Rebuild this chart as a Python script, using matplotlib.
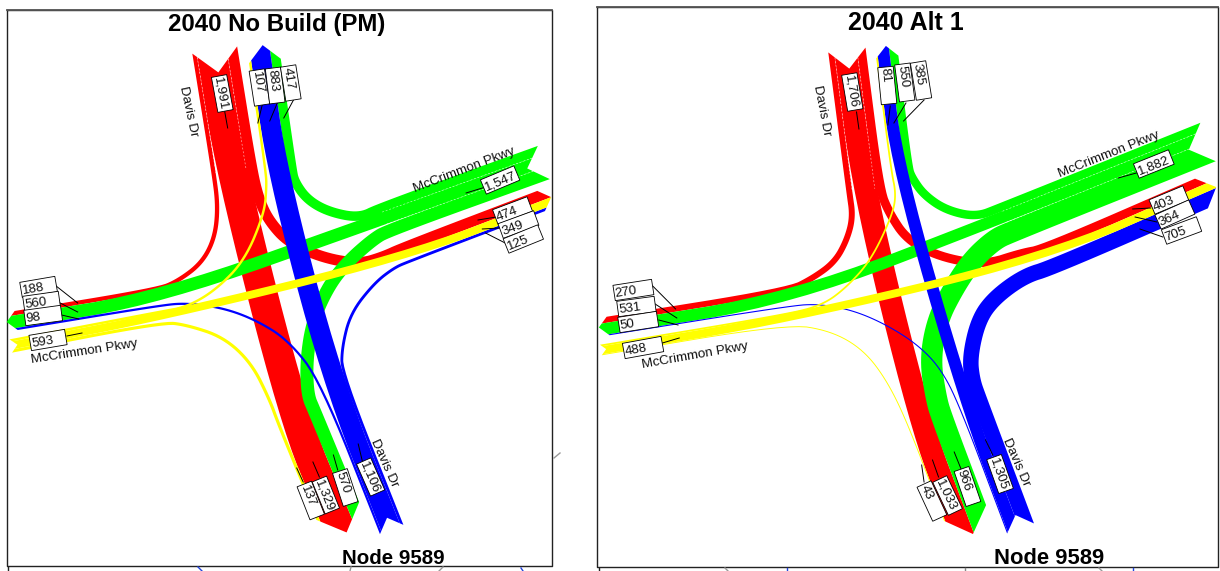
import numpy as np
import matplotlib
matplotlib.use("Agg")
import matplotlib.pyplot as plt

plt.rcParams['font.family'] = ['Liberation Sans', 'DejaVu Sans']

# ---- turning volumes: vehicles entering from each leg, listed in stacking order
# from north: to west, south, east | from east: to north, west, south
# from south: to west, north, east | from west: to north, east, south
nb_north = [188, 1329, 474]
nb_east = [417, 560, 570]
nb_south = [98, 883, 125]
nb_west = [107, 349, 137]
alt_north = [270, 1033, 403]
alt_east = [385, 531, 966]
alt_south = [50, 550, 705]
alt_west = [81, 364, 43]

titles = ["2040 No Build (PM)", "2040 Alt 1"]
node_label = "Node 9589"
road_ns = "Davis Dr"
road_ew = "McCrimmon Pkwy"
leg_colors = {'N': '#ff0000', 'E': '#00ff00', 'S': '#0000ff', 'W': '#ffff00'}
WIDTH_SCALE = [0.0228, 0.022]

IN_ORDER = {'N': 'WSE', 'E': 'NWS', 'S': 'WNE', 'W': 'NES'}
EXITS = {'N': ['WN', 'SN', 'EN'], 'E': ['NE', 'WE', 'SE'],
         'S': ['WS', 'NS', 'ES'], 'W': ['NW', 'EW', 'SW']}

# ---- road geometry, drawn in picture units, converted per panel
panels = [
    dict(
        xform=(0.0, 1.079),
        vols=dict(N=nb_north, E=nb_east, S=nb_south, W=nb_west),
        ins=dict(N=[(199, 50), (217, 170)], E=[(504, 162.5), (356, 220)],
                 S=[(363, 529.5), (307, 377)], W=[(10, 346), (150, 317)]),
        outs=dict(N=[(260, 170), (245.5, 61)], E=[(375, 253), (501.5, 201)],
                  S=[(277, 417), (313, 511)], W=[(147, 297), (15, 320.5)]),
        mids={
            'NW': [(202, 207), (199, 238), (187, 263), (165, 281)],
            'NE': [(240, 200), (250, 222), (268, 243), (300, 258), (333, 264), (355, 257)],
            'EN': [(333, 218), (305, 212), (285, 200), (273, 182)],
            'ES': [(345, 240), (322, 262), (305, 285), (290, 320), (284, 360), (285, 395)],
            'SW': [(267, 340), (237, 320), (207, 308), (173, 303)],
            'SE': [(317, 347), (325, 313), (347, 283), (365, 268)],
            'WN': [(173, 307), (200, 290), (227, 260), (245, 213), (247, 187)],
            'WS': [(173, 325), (207, 337), (233, 363), (250, 400)],
        },
        labels=[
            ((203, 76), (209, 111), (208, 110), (211, 128), 'N'),
            ((238, 70), (243, 105), (243, 105), (239, 123), 'WN'),
            ((253, 68), (257, 103), (257, 103), (250, 121), 'SN'),
            ((267, 66), (272, 100), (272, 100), (263, 118), 'EN'),
            ((448, 187), (479, 173), (450, 187), (432, 193), 'E'),
            ((459, 217), (491, 204), (460, 217), (443, 220), 'NE'),
            ((464, 231), (497, 218), (463, 228), (447, 229), 'WE'),
            ((469, 246), (501, 232), (470, 244), (450, 233), 'SE'),
            ((19.5, 290), (52, 284), (52, 286), (72, 303), 'NW'),
            ((22, 304), (55, 299), (54, 302), (72, 312), 'EW'),
            ((23, 318), (57, 313), (57, 315), (73, 319), 'SW'),
            ((28, 343), (61, 337), (62, 336), (76, 333), 'W'),
            ((282, 484), (294, 517), (281, 482), (275, 468), 'WS'),
            ((296, 479), (308, 511), (296, 477), (290, 462), 'NS'),
            ((315, 471), (325, 504), (313, 470), (309, 455), 'ES'),
            ((337, 461), (350, 493), (336, 462), (332, 444), 'S'),
        ],
        roads=[((170, 86), (180, 136), road_ns), ((382, 190), (479, 150), road_ew),
               ((27, 360), (129, 343), road_ew), ((346, 439), (366, 487), road_ns)],
        title_xy=(277, 25), title_size=17.3, node_xy=(393, 558), node_size=14.8,
        frame=(6.5, 10, 552, 566),
    ),
    dict(
        xform=(590.0, 1.206),
        vols=dict(N=alt_north, E=alt_east, S=alt_south, W=alt_west),
        ins=dict(N=[(213, 50), (228, 190)], E=[(512.5, 142), (345, 223)],
                 S=[(357, 528.5), (317, 400)], W=[(9, 350), (163, 319)]),
        outs=dict(N=[(258, 168), (246.5, 57)], E=[(380, 260), (507, 193.5)],
                  S=[(282, 420), (311, 513)], W=[(165, 297), (15, 326)]),
        mids={
            'NW': [(218, 217), (213, 240), (203, 262), (185, 278)],
            'NE': [(248, 213), (263, 240), (290, 257), (327, 265), (358, 253)],
            'EN': [(320, 217), (295, 210), (277, 195), (267, 178)],
            'ES': [(335, 240), (317, 260), (302, 287), (288, 320), (282, 360), (287, 398)],
            'SW': [(290, 367), (270, 343), (243, 323), (217, 310), (190, 304)],
            'SE': [(317, 380), (315, 357), (322, 320), (335, 298), (360, 276)],
            'WN': [(193, 305), (213, 287), (233, 260), (250, 217), (254, 195)],
            'WS': [(200, 331), (227, 350), (247, 382)],
        },
        labels=[
            ((215, 74), (220, 110), (221, 112), (223, 129), 'N'),
            ((245, 67), (248, 104), (249, 106), (247, 125), 'WN'),
            ((259, 64), (263, 101), (262, 103), (252, 123), 'SN'),
            ((272, 62), (277, 99), (277, 100), (260, 121), 'EN'),
            ((453, 171), (482, 157), (453, 173), (438, 178), 'E'),
            ((466, 207), (494, 193), (465, 208), (450, 209), 'NE'),
            ((471, 222), (499, 207), (470, 222), (452, 217), 'WE'),
            ((476, 237), (505, 224), (475, 237), (456, 229), 'SE'),
            ((20, 293), (52, 287), (52, 286), (71, 309), 'NW'),
            ((23, 309), (54, 304), (54, 304), (72, 318), 'EW'),
            ((24, 325), (56, 319), (57, 320), (73, 325), 'SW'),
            ((28, 351), (60, 344), (60, 343), (74, 338), 'W'),
            ((277, 484), (290, 518), (277, 482), (275, 465), 'WS'),
            ((290, 479), (303, 512), (289, 477), (284, 460), 'NS'),
            ((308, 469), (318, 504), (308, 470), (302, 452), 'ES'),
            ((335, 457), (345, 491), (334, 455), (328, 440), 'S'),
        ],
        roads=[((188, 83), (197, 139), road_ns), ((383, 177), (477, 132), road_ew),
               ((38, 366), (136, 345), road_ew), ((344, 436), (363, 488), road_ns)],
        title_xy=(906, 23), title_size=18, node_xy=(1049.5, 558), node_size=15.8,
        frame=(597, 7, 1218, 567),
    ),
]


def unit(v):
    v = np.asarray(v, float)
    return v / np.hypot(*v)


def chaikin(p, n=3):
    p = np.asarray(p, float)
    for _ in range(n):
        q = [p[0]]
        for a, b in zip(p[:-1], p[1:]):
            q += [0.75 * a + 0.25 * b, 0.25 * a + 0.75 * b]
        q.append(p[-1])
        p = np.array(q)
    return p


def resample(p, step=1.5):
    s = np.r_[0, np.cumsum(np.hypot(*np.diff(p, axis=0).T))]
    t = np.r_[np.arange(0, s[-1], step), s[-1]]
    return np.c_[np.interp(t, s, p[:, 0]), np.interp(t, s, p[:, 1])]


def lateral_axis(leg, d):
    n = np.array([-d[1], d[0]])
    if (leg in 'NS' and n[0] < 0) or (leg in 'EW' and n[1] < 0):
        n = -n
    return n


def cap_points(plane, d, n, half, a, b):
    lats = [a, b] if a * b >= 0 else [a, 0.0, b]
    return [plane + l * n + half * (1 - abs(l) / half) * d for l in lats]


fig = plt.figure(figsize=(12.2, 5.71), dpi=100)
ax = fig.add_axes([0, 0, 1, 1])
ax.set_xlim(0, 1220)
ax.set_ylim(571, 0)
ax.axis('off')

for title, panel, scale in zip(titles, panels, WIDTH_SCALE):
    x0, sx = panel['xform']
    P = lambda q: np.array([x0 + sx * q[0], q[1]], float)
    fx0, fy0, fx1, fy1 = panel['frame']
    ax.plot([fx0, fx1, fx1, fx0, fx0], [fy0, fy0, fy1, fy1, fy0], color='#222222', lw=1.0, zorder=1)
    ax.plot([fx0, fx1], [fy0, fy0], color='#555555', lw=1.3, zorder=1)

    vols = {(k + t): v for k in 'NESW' for t, v in zip(IN_ORDER[k], panel['vols'][k])}
    entry = {k: [k + t for t in IN_ORDER[k]] for k in 'NESW'}

    geo_in, geo_out, lat_in, lat_out = {}, {}, {}, {}
    for leg in 'NESW':
        for side, stack, geo, lat in (('ins', entry[leg], geo_in, lat_in),
                                      ('outs', EXITS[leg], geo_out, lat_out)):
            a, b = P(panel[side][leg][0]), P(panel[side][leg][1])
            d = unit(b - a)
            n = lateral_axis(leg, d)
            tot = sum(vols[m] for m in stack) * scale
            geo[leg] = (a, b, d, n, tot / 2)
            c = -tot / 2
            for m in stack:
                w = vols[m] * scale
                lat[m] = (c, c + w)
                c += w

    z = {'N': 2, 'E': 3, 'S': 4, 'W': 5}
    for m, vol in vols.items():
        f, t = m[0], m[1]
        pa, ka, da, na, ha = geo_in[f]
        kb, pb, db, nb, hb = geo_out[t]
        la, lb = lat_in[m], lat_out[m]
        ca, cb = sum(la) / 2, sum(lb) / 2
        w = vol * scale
        way = [pa + ca * na, ka + ca * na]
        way += [P(q) for q in panel['mids'].get(m, [])]
        way += [kb + cb * nb, pb + cb * nb]
        line = resample(chaikin(way))
        tang = np.gradient(line, axis=0)
        tang /= np.maximum(np.hypot(*tang.T), 1e-9)[:, None]
        norm = np.c_[-tang[:, 1], tang[:, 0]]
        s = 1 if norm[0] @ na > 0 else -1
        e_hi = line + s * norm * w / 2
        e_lo = line - s * norm * w / 2
        dep_hi = ha * (1 - abs(la[1]) / ha)
        dep_lo = ha * (1 - abs(la[0]) / ha)
        e_hi = e_hi[(e_hi - pa) @ da > dep_hi + 0.1]
        e_lo = e_lo[(e_lo - pa) @ da > dep_lo + 0.1]
        cap_in = cap_points(pa, da, na, ha, la[0], la[1])
        cap_out = cap_points(pb, db, nb, hb, lb[0], lb[1])
        if (s * norm[-1]) @ nb > 0:
            cap_out = cap_out[::-1]
        poly = np.vstack([cap_in, e_hi, cap_out, e_lo[::-1]])
        ax.fill(poly[:, 0], poly[:, 1], color=leg_colors[f], lw=0, zorder=z[f])

    # faint dashes between the movements sharing a wide entry
    for leg in 'NE':
        pa, ka, da, na, ha = geo_in[leg]
        for m in entry[leg][:-1]:
            l = lat_in[m][1]
            st = pa + l * na + ha * (1 - abs(l) / ha) * da
            en = ka + l * na
            ax.plot([st[0], en[0]], [st[1], en[1]], color='white', lw=0.45, alpha=0.7,
                    dashes=(3, 3), zorder=z[leg] + 0.1)

    # value boxes
    for a, b, la, lb, key in panel['labels']:
        a, b, la, lb = P(a), P(b), P(la), P(lb)
        ax.plot([la[0], lb[0]], [la[1], lb[1]], color='black', lw=0.7, zorder=8)
        d = unit(b - a)
        n = np.array([-d[1], d[0]])
        h = 15.5
        box = np.array([a + n * h / 2, b + n * h / 2, b - n * h / 2, a - n * h / 2])
        ax.fill(box[:, 0], box[:, 1], facecolor='white', edgecolor='black', lw=0.6, zorder=9)
        value = sum(vols[key + t] for t in IN_ORDER[key]) if len(key) == 1 else vols[key]
        pos = a + d * 1.0 + n * 1.5
        ax.text(pos[0], pos[1], f"{value:,}", fontsize=9.5, color='#111111',
                rotation=np.degrees(np.arctan2(-d[1], d[0])),
                rotation_mode='anchor', ha='left', va='center', zorder=10)

    for a, b, s in panel['roads']:
        a, b = P(a), P(b)
        d = b - a
        c = (a + b) / 2
        ax.text(c[0], c[1], s, fontsize=9.6, color='#111111', ha='center', va='center',
                rotation=np.degrees(np.arctan2(-d[1], d[0])), rotation_mode='anchor', zorder=11)

    ax.text(*panel['title_xy'], title, fontsize=panel['title_size'],
            fontweight='bold', ha='center', va='center', color='black', zorder=12)
    ax.text(*panel['node_xy'], node_label, fontsize=panel['node_size'], fontweight='bold',
            ha='center', va='center', color='black', zorder=12)

# scraps of the underlying map showing around the frames
for xs, ys, col in [((198, 202), (567, 571), '#2244dd'), ((351, 350), (567, 571), '#999999'),
                    ((443, 439), (567, 571), '#999999'), ((521, 523), (568, 571), '#2244dd'),
                    ((554, 560), (458, 453), '#999999'), ((8, 8), (567, 571), '#222222'),
                    ((599, 599), (568, 571), '#222222'), ((725, 728), (568, 571), '#999999'),
                    ((787, 787), (568, 571), '#2244dd'), ((965, 965), (568, 571), '#888888'),
                    ((1099, 1102), (568, 571), '#999999'), ((1133, 1133), (568, 571), '#2244dd')]:
    ax.plot(xs, ys, color=col, lw=1.0, zorder=1)

fig.savefig('out.png', dpi=100)
